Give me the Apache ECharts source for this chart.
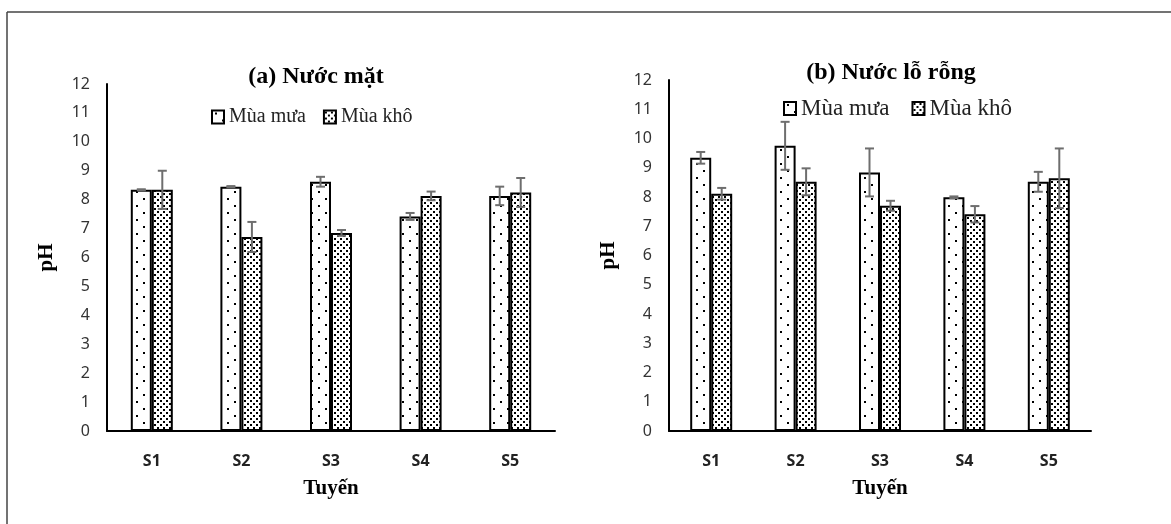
<!DOCTYPE html>
<html><head><meta charset="utf-8">
<script src="https://cdn.jsdelivr.net/npm/echarts@6/dist/echarts.min.js"></script>
<style>html,body{margin:0;padding:0;background:#fff}#c{width:1171px;height:524px}</style>
</head><body><div id="c"></div>
<script>
const categories = ['S1','S2','S3','S4','S5'];
const yTicks = [0,1,2,3,4,5,6,7,8,9,10,11,12];
// (a) Nước mặt
const aRainMean = [8.34, 8.45, 8.62, 7.42, 8.13];
const aRainErr  = [0.02, 0.02, 0.17, 0.12, 0.32];
const aDryMean  = [8.34, 6.71, 6.85, 8.13, 8.25];
const aDryErr   = [0.66, 0.52, 0.10, 0.15, 0.50];
// (b) Nước lỗ rỗng
const bRainMean = [9.34, 9.75, 8.84, 7.99, 8.52];
const bRainErr  = [0.20, 0.82, 0.82, 0.03, 0.34];
const bDryMean  = [8.11, 8.52, 7.70, 7.41, 8.64];
const bDryErr   = [0.20, 0.46, 0.17, 0.28, 1.02];

function makeTile(size, dots){
  const c = document.createElement('canvas'); c.width = size; c.height = size;
  const g = c.getContext('2d'); g.fillStyle = '#fff'; g.fillRect(0,0,size,size);
  g.fillStyle = '#000'; dots.forEach(d => g.fillRect(d[0], d[1], d[2]||1, d[2]||1));
  return c;
}
const rainPat = {image: makeTile(14, [[3,2,2],[10,9,2]]), repeat: 'repeat'};
const dryPat  = {image: makeTile(6, [[1,1,2],[4,4,2]]), repeat: 'repeat'};

const chart = echarts.init(document.getElementById('c'), null, {renderer:'canvas'});
const BW = 21;
function errSeries(gi, mean, err, off){
  return {
    type:'custom', xAxisIndex:gi, yAxisIndex:gi, z:10, silent:true,
    data: categories.map((c,i)=>[i, mean[i], err[i]]),
    renderItem(params, api){
      const i = api.value(0), m = api.value(1), e = api.value(2);
      const top = api.coord([i, m+e]), bot = api.coord([i, m-e]);
      const x = top[0] + off, cw = 4.5;
      const st = {stroke:'#6e6e6e', lineWidth:2};
      return {type:'group', children:[
        {type:'line', shape:{x1:x, y1:top[1], x2:x, y2:bot[1]}, style:st},
        {type:'line', shape:{x1:x-cw, y1:top[1], x2:x+cw, y2:top[1]}, style:st},
        {type:'line', shape:{x1:x-cw, y1:bot[1], x2:x+cw, y2:bot[1]}, style:st}
      ]};
    }
  };
}
function barSeries(gi, name, data, pat){
  return {type:'bar', name:name, xAxisIndex:gi, yAxisIndex:gi, data:data, barWidth:BW, barGap:'0%',
    itemStyle:{color:pat, borderColor:'#000', borderWidth:2}, emphasis:{disabled:true}};
}
function xAx(gi){
  return {type:'category', gridIndex:gi, data:categories,
    axisLine:{lineStyle:{color:'#000', width:2}}, axisTick:{show:false},
    axisLabel:{margin:22, fontFamily:'Noto Sans', fontWeight:'bold', fontSize:16, color:'#222'},
    name:'Tuyến', nameLocation:'middle', nameGap:47,
    nameTextStyle:{fontFamily:'Liberation Serif', fontWeight:'bold', fontSize:21, color:'#000'}};
}
function yAx(gi){
  return {type:'value', gridIndex:gi, min:yTicks[0], max:yTicks[yTicks.length-1], interval:1,
    splitLine:{show:false}, axisLine:{show:true, lineStyle:{color:'#000', width:2}}, axisTick:{show:false},
    axisLabel:{margin:17, fontFamily:'Noto Sans', fontSize:16, color:'#333'},
    name:'pH', nameLocation:'middle', nameGap:50, nameRotate:90,
    nameTextStyle:{fontFamily:'Liberation Serif', fontWeight:'bold', fontSize:21, color:'#000'}};
}
const option = {
  animation:false,
  grid:[{left:107, right:616, top:84, bottom:93}, {left:669, right:80, top:80, bottom:93}],
  xAxis:[xAx(0), xAx(1)],
  yAxis:[yAx(0), yAx(1)],
  legend:[
    {data:['Mùa mưa','Mùa khô'], icon:'rect', left:211, top:107, padding:0, itemWidth:12, itemHeight:13, itemGap:17,
     textStyle:{fontFamily:'Liberation Serif', fontSize:20, color:'#222'}},
    {data:['Mùa mưa','Mùa khô'], icon:'rect', left:783, top:97, padding:0, itemWidth:12, itemHeight:13, itemGap:22,
     textStyle:{fontFamily:'Liberation Serif', fontSize:23, color:'#222'}}
  ],
  graphic:[
    {type:'text', x:316, y:77, style:{text:'(a) Nước mặt', textAlign:'center', textVerticalAlign:'middle',
      font:'bold 24px "Liberation Serif"', fill:'#000'}},
    {type:'text', x:891, y:73, style:{text:'(b) Nước lỗ rỗng', textAlign:'center', textVerticalAlign:'middle',
      font:'bold 24px "Liberation Serif"', fill:'#000'}},
    {type:'line', shape:{x1:7, y1:12, x2:1171, y2:12}, style:{stroke:'#444', lineWidth:1.5}},
    {type:'line', shape:{x1:7, y1:12, x2:7, y2:524}, style:{stroke:'#444', lineWidth:1.5}}
  ],
  series:[
    barSeries(0,'Mùa mưa',aRainMean,rainPat),
    barSeries(0,'Mùa khô',aDryMean,dryPat),
    barSeries(1,'Mùa mưa',bRainMean,rainPat),
    barSeries(1,'Mùa khô',bDryMean,dryPat),
    errSeries(0,aRainMean,aRainErr,-BW/2),
    errSeries(0,aDryMean,aDryErr,BW/2),
    errSeries(1,bRainMean,bRainErr,-BW/2),
    errSeries(1,bDryMean,bDryErr,BW/2)
  ]
};
chart.setOption(option);
</script></body></html>
